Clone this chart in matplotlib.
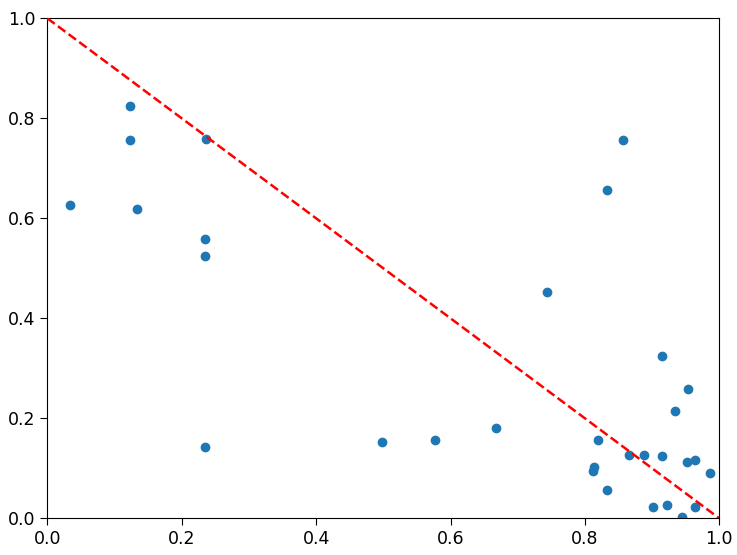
import matplotlib
matplotlib.use('Agg')
import matplotlib.pyplot as plt

# точки
x_vals = [0.034, 0.123, 0.123, 0.133, 0.236, 0.234, 0.234, 0.235,
          0.498, 0.577, 0.667, 0.744, 0.833, 0.856,
          0.915, 0.954, 0.934, 0.820, 0.866, 0.888, 0.915, 0.952,
          0.964, 0.986, 0.8136, 0.8116, 0.833, 0.901, 0.922, 0.964, 0.945]
y_vals = [0.627, 0.825, 0.757, 0.618, 0.758, 0.558, 0.525, 0.143,
          0.153, 0.157, 0.180, 0.453, 0.657, 0.757,
          0.325, 0.258, 0.215, 0.157, 0.126, 0.126, 0.125, 0.113,
          0.117, 0.091, 0.103, 0.094, 0.057, 0.023, 0.027, 0.023, 0.003]

# диагональ
line_x = [0.0, 1.0]
line_y = [1.0, 0.0]

fig = plt.figure(figsize=(7.37, 5.55), dpi=100)
ax = fig.add_axes([0.0642, 0.0661, 0.9118, 0.9009])

ax.scatter(x_vals, y_vals, s=36, color='#1f77b4', zorder=2)
ax.plot(line_x, line_y, 'r--', linewidth=1.8, zorder=3)

ax.set_xlim(0, 1)
ax.set_ylim(0, 1)
ax.set_xticks([0.0, 0.2, 0.4, 0.6, 0.8, 1.0])
ax.set_yticks([0.0, 0.2, 0.4, 0.6, 0.8, 1.0])
ax.tick_params(labelsize=12.5, length=5)

plt.savefig('out.png', dpi=100)
plt.close()
